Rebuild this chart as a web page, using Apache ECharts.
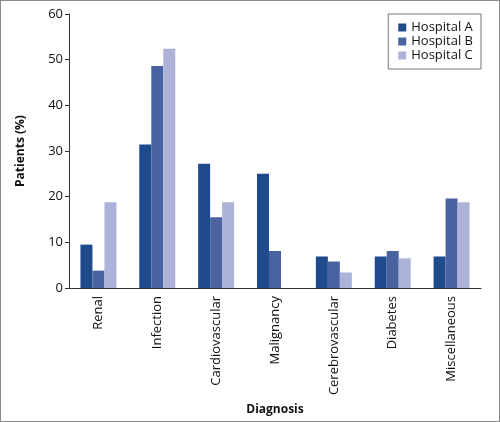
<!DOCTYPE html>
<html>
<head>
<meta charset="utf-8">
<script src="https://cdn.jsdelivr.net/npm/echarts@6/dist/echarts.min.js"></script>
<style>
  html, body { margin: 0; padding: 0; background: #fff; }
  #main { width: 498px; height: 420px; border: 1px solid #8a8a8a; }
</style>
</head>
<body>
<div id="main"></div>
<script>
const diagnoses = ['Renal', 'Infection', 'Cardiovascular', 'Malignancy', 'Cerebrovascular', 'Diabetes', 'Miscellaneous'];
const hospitalA = [9.5, 31.4, 27.2, 25.0, 6.9, 6.9, 6.9];
const hospitalB = [3.8, 48.6, 15.5, 8.1, 5.8, 8.1, 19.6];
const hospitalC = [18.8, 52.4, 18.8, 0, 3.4, 6.5, 18.8];
const yTicks = [0, 10, 20, 30, 40, 50, 60];

const font = '"Open Sans", "Noto Sans", sans-serif';
const chart = echarts.init(document.getElementById('main'));

function bar(name, data, color) {
  return {
    name,
    type: 'bar',
    data,
    barWidth: 12,
    barGap: '0%',
    itemStyle: { color }
  };
}

chart.setOption({
  animation: false,
  textStyle: { fontFamily: font },
  grid: { left: 68, right: 18, top: 13, bottom: 133 },
  legend: {
    orient: 'vertical',
    right: 18,
    top: 13,
    padding: [7, 8, 7, 10],
    itemGap: 1,
    itemWidth: 8,
    itemHeight: 8,
    icon: 'rect',
    borderColor: '#777',
    borderWidth: 1,
    borderRadius: 0,
    textStyle: { fontSize: 13, color: '#111', fontFamily: font }
  },
  xAxis: {
    type: 'category',
    data: diagnoses,
    name: 'Diagnosis',
    nameLocation: 'middle',
    nameGap: 116,
    nameTextStyle: { fontWeight: 'bold', fontSize: 12, color: '#111' },
    axisLine: { lineStyle: { color: '#333' } },
    axisTick: { length: 4, lineStyle: { color: '#333' } },
    axisLabel: { rotate: 90, fontSize: 13, color: '#111', margin: 8 }
  },
  yAxis: {
    type: 'value',
    min: yTicks[0],
    max: yTicks[yTicks.length - 1],
    interval: 10,
    name: 'Patients (%)',
    nameLocation: 'middle',
    nameGap: 42,
    nameTextStyle: { fontWeight: 'bold', fontSize: 12, color: '#111' },
    splitLine: { show: false },
    axisLine: { show: true, lineStyle: { color: '#333' } },
    axisTick: { show: true, length: 4, lineStyle: { color: '#333' } },
    axisLabel: { fontSize: 13, color: '#111', margin: 6 }
  },
  series: [
    bar('Hospital A', hospitalA, '#1f4a8c'),
    bar('Hospital B', hospitalB, '#4a62a0'),
    bar('Hospital C', hospitalC, '#adb3d8')
  ]
});
</script>
</body>
</html>
